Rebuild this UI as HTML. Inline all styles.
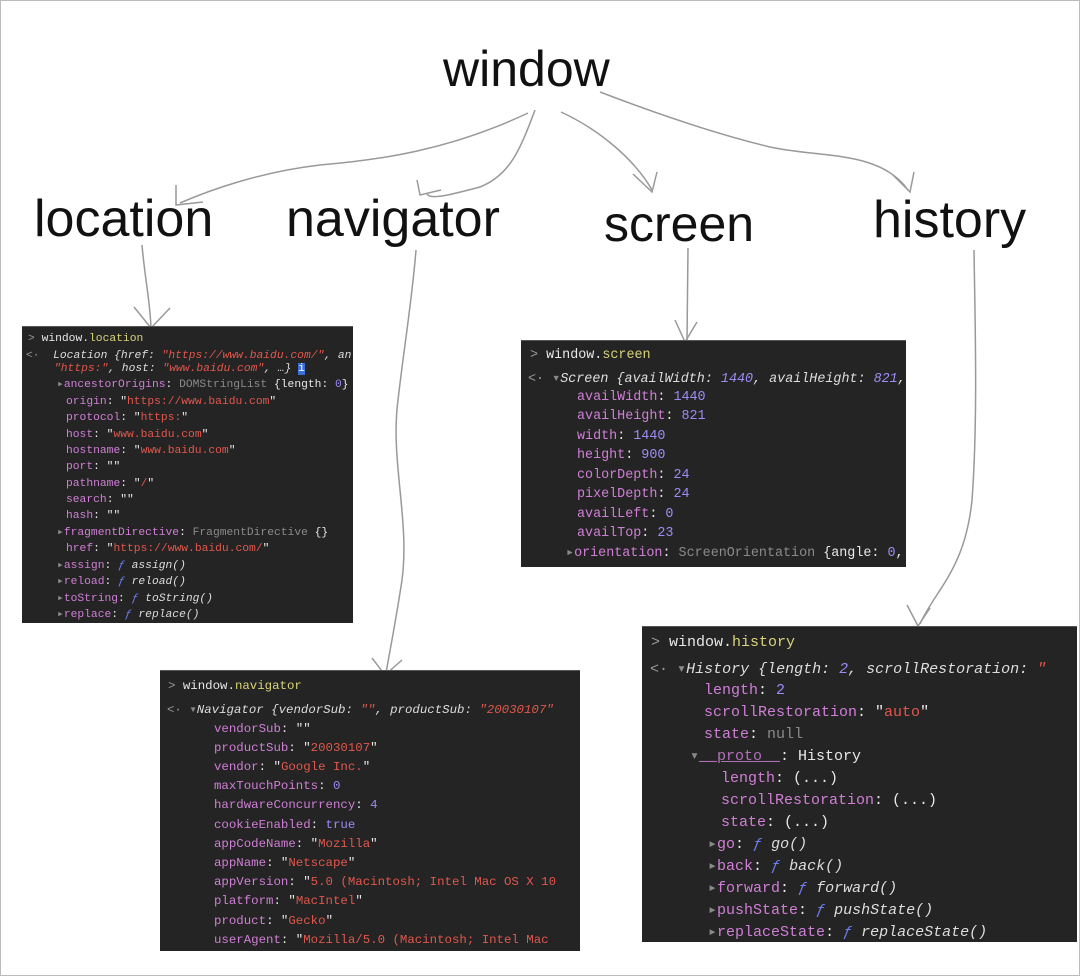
<!DOCTYPE html>
<html><head><meta charset="utf-8"><style>
body{margin:0;width:1080px;height:976px;background:#fff;position:relative;overflow:hidden;font-family:"Liberation Sans",sans-serif}
.frame{position:absolute;left:0;top:0;width:1078px;height:974px;border:1px solid #bbb}
.t{position:absolute;font-size:50px;color:#111;line-height:1;white-space:nowrap}
.p{position:absolute;background:#242424;overflow:hidden;font-family:"Liberation Mono",monospace;border-top:1px solid #555}
.p div{position:absolute;white-space:pre}
.k{color:#d07fd6}.s{color:#e2574c}.n{color:#9d8cf5}.w{color:#e8e8e8}.y{color:#d8d47a}.g{color:#8a8a8a}.i{font-style:italic;color:#ddd}.pr{color:#999}.f{color:#6f7ef0;font-style:italic}
</style></head><body>
<div class="frame"></div>
<div class="t" style="left:443px;top:44px">window</div>
<div class="t" style="left:34px;top:193px;font-size:52px">location</div>
<div class="t" style="left:286px;top:193px;font-size:52px">navigator</div>
<div class="t" style="left:604px;top:199px">screen</div>
<div class="t" style="left:873px;top:194px;font-size:52px">history</div>
<svg width="1080" height="976" style="position:absolute;left:0;top:0" fill="none" stroke="#999" stroke-width="1.5">
<path d="M528 113 C450 150,380 160,320 165 C260 172,210 190,180 203"/><path d="M176 185 L176 205 L203 202"/>
<path d="M535 110 C520 150,510 175,480 187 C450 195,430 200,427 194"/><path d="M417 180 L420 195 L441 190"/>
<path d="M561 112 C600 130,635 160,652 190"/><path d="M633 174 L652 192 L657 172"/>
<path d="M600 92 C660 115,720 135,770 147 C820 158,880 150,908 190"/><path d="M893 175 L910 192 L914 172"/>
<path d="M142 245 C145 280,150 300,151 328"/><path d="M134 307 L151 328 L170 308"/>
<path d="M416 250 C412 300,405 340,398 400 C390 460,410 520,402 580 C396 620,390 650,386 673"/><path d="M372 658 L385 675 L402 660"/>
<path d="M688 248 L687 340"/><path d="M675 320 L685 342 L697 322"/>
<path d="M974 250 C975 320,978 420,972 500 C965 570,935 590,920 624"/><path d="M907 605 L918 626 L930 608"/>
</svg>

<div class="p" style="left:22px;top:326px;width:331px;height:296px;font-size:11.3px;line-height:16px">
<div style="left:6px;top:4px"><span class="pr">&gt;</span> <span class="w">window.</span><span class="y">location</span></div>
<div style="left:4px;top:21px"><span class="pr">&lt;·</span>  <span class="i">Location {href: <span class="s">"https://www.baidu.com/"</span>, an</span></div>
<div style="left:32px;top:34px"><span class="i"><span class="s">"https:"</span>, host: <span class="s">"www.baidu.com"</span>, …}</span> <span style="background:#3b6fd8;color:#fff">i</span></div>
<div style="left:35px;top:50px"><span class="g">▸</span><span class="k">ancestorOrigins</span><span class="w">: </span><span class="g">DOMStringList </span><span class="w">{length: </span><span class="n">0</span><span class="w">}</span></div>
<div style="left:44px;top:67px"><span class="k">origin</span><span class="w">: "</span><span class="s">https://www.baidu.com</span><span class="w">"</span></div>
<div style="left:44px;top:83px"><span class="k">protocol</span><span class="w">: "</span><span class="s">https:</span><span class="w">"</span></div>
<div style="left:44px;top:100px"><span class="k">host</span><span class="w">: "</span><span class="s">www.baidu.com</span><span class="w">"</span></div>
<div style="left:44px;top:116px"><span class="k">hostname</span><span class="w">: "</span><span class="s">www.baidu.com</span><span class="w">"</span></div>
<div style="left:44px;top:132px"><span class="k">port</span><span class="w">: ""</span></div>
<div style="left:44px;top:149px"><span class="k">pathname</span><span class="w">: "</span><span class="s">/</span><span class="w">"</span></div>
<div style="left:44px;top:165px"><span class="k">search</span><span class="w">: ""</span></div>
<div style="left:44px;top:181px"><span class="k">hash</span><span class="w">: ""</span></div>
<div style="left:35px;top:198px"><span class="g">▸</span><span class="k">fragmentDirective</span><span class="w">: </span><span class="g">FragmentDirective </span><span class="w">{}</span></div>
<div style="left:44px;top:214px"><span class="k">href</span><span class="w">: "</span><span class="s">https://www.baidu.com/</span><span class="w">"</span></div>
<div style="left:35px;top:231px"><span class="g">▸</span><span class="k">assign</span><span class="w">: </span><span class="f">ƒ</span> <span class="i">assign()</span></div>
<div style="left:35px;top:247px"><span class="g">▸</span><span class="k">reload</span><span class="w">: </span><span class="f">ƒ</span> <span class="i">reload()</span></div>
<div style="left:35px;top:264px"><span class="g">▸</span><span class="k">toString</span><span class="w">: </span><span class="f">ƒ</span> <span class="i">toString()</span></div>
<div style="left:35px;top:280px"><span class="g">▸</span><span class="k">replace</span><span class="w">: </span><span class="f">ƒ</span> <span class="i">replace()</span></div>
</div>

<div class="p" style="left:521px;top:340px;width:385px;height:226px;font-size:13.4px;line-height:19px">
<div style="left:9px;top:5px"><span class="pr">&gt;</span> <span class="w">window.</span><span class="y">screen</span></div>
<div style="left:7px;top:29px"><span class="pr">&lt;·</span> <span class="g">▾</span><span class="i">Screen {availWidth: <span class="n">1440</span>, availHeight: <span class="n">821</span>,</span></div>
<div style="left:56px;top:47px"><span class="k">availWidth</span><span class="w">: </span><span class="n">1440</span></div>
<div style="left:56px;top:66px"><span class="k">availHeight</span><span class="w">: </span><span class="n">821</span></div>
<div style="left:56px;top:86px"><span class="k">width</span><span class="w">: </span><span class="n">1440</span></div>
<div style="left:56px;top:105px"><span class="k">height</span><span class="w">: </span><span class="n">900</span></div>
<div style="left:56px;top:125px"><span class="k">colorDepth</span><span class="w">: </span><span class="n">24</span></div>
<div style="left:56px;top:144px"><span class="k">pixelDepth</span><span class="w">: </span><span class="n">24</span></div>
<div style="left:56px;top:164px"><span class="k">availLeft</span><span class="w">: </span><span class="n">0</span></div>
<div style="left:56px;top:183px"><span class="k">availTop</span><span class="w">: </span><span class="n">23</span></div>
<div style="left:45px;top:203px"><span class="g">▸</span><span class="k">orientation</span><span class="w">: </span><span class="g">ScreenOrientation </span><span class="w">{angle: </span><span class="n">0</span><span class="w">,</span></div>
</div>

<div class="p" style="left:160px;top:670px;width:420px;height:280px;font-size:12.4px;line-height:19px">
<div style="left:8px;top:6px"><span class="pr">&gt;</span> <span class="w">window.</span><span class="y">navigator</span></div>
<div style="left:7px;top:30px"><span class="pr">&lt;·</span> <span class="g">▾</span><span class="i">Navigator {vendorSub: <span class="s">""</span>, productSub: <span class="s">"20030107"</span></span></div>
<div style="left:54px;top:49px"><span class="k">vendorSub</span><span class="w">: ""</span></div>
<div style="left:54px;top:68px"><span class="k">productSub</span><span class="w">: "</span><span class="s">20030107</span><span class="w">"</span></div>
<div style="left:54px;top:87px"><span class="k">vendor</span><span class="w">: "</span><span class="s">Google Inc.</span><span class="w">"</span></div>
<div style="left:54px;top:106px"><span class="k">maxTouchPoints</span><span class="w">: </span><span class="n">0</span></div>
<div style="left:54px;top:125px"><span class="k">hardwareConcurrency</span><span class="w">: </span><span class="n">4</span></div>
<div style="left:54px;top:145px"><span class="k">cookieEnabled</span><span class="w">: </span><span class="n">true</span></div>
<div style="left:54px;top:164px"><span class="k">appCodeName</span><span class="w">: "</span><span class="s">Mozilla</span><span class="w">"</span></div>
<div style="left:54px;top:183px"><span class="k">appName</span><span class="w">: "</span><span class="s">Netscape</span><span class="w">"</span></div>
<div style="left:54px;top:202px"><span class="k">appVersion</span><span class="w">: "</span><span class="s">5.0 (Macintosh; Intel Mac OS X 10</span></div>
<div style="left:54px;top:221px"><span class="k">platform</span><span class="w">: "</span><span class="s">MacIntel</span><span class="w">"</span></div>
<div style="left:54px;top:241px"><span class="k">product</span><span class="w">: "</span><span class="s">Gecko</span><span class="w">"</span></div>
<div style="left:54px;top:260px"><span class="k">userAgent</span><span class="w">: "</span><span class="s">Mozilla/5.0 (Macintosh; Intel Mac</span></div>
</div>

<div class="p" style="left:642px;top:626px;width:435px;height:315px;font-size:15px;line-height:22px">
<div style="left:9px;top:5px"><span class="pr">&gt;</span> <span class="w">window.</span><span class="y">history</span></div>
<div style="left:8px;top:32px"><span class="pr">&lt;·</span> <span class="g">▾</span><span class="i">History {length: <span class="n">2</span>, scrollRestoration: <span class="s">"</span></span></div>
<div style="left:62px;top:53px"><span class="k">length</span><span class="w">: </span><span class="n">2</span></div>
<div style="left:62px;top:75px"><span class="k">scrollRestoration</span><span class="w">: "</span><span class="s">auto</span><span class="w">"</span></div>
<div style="left:62px;top:97px"><span class="k">state</span><span class="w">: </span><span class="g">null</span></div>
<div style="left:48px;top:119px"><span class="g">▾</span><span class="k" style="text-decoration:underline;color:#b070b8">__proto__</span><span class="w">: History</span></div>
<div style="left:79px;top:141px"><span class="k">length</span><span class="w">: (...)</span></div>
<div style="left:79px;top:163px"><span class="k">scrollRestoration</span><span class="w">: (...)</span></div>
<div style="left:79px;top:185px"><span class="k">state</span><span class="w">: (...)</span></div>
<div style="left:66px;top:207px"><span class="g">▸</span><span class="k">go</span><span class="w">: </span><span class="f">ƒ</span> <span class="i">go()</span></div>
<div style="left:66px;top:229px"><span class="g">▸</span><span class="k">back</span><span class="w">: </span><span class="f">ƒ</span> <span class="i">back()</span></div>
<div style="left:66px;top:251px"><span class="g">▸</span><span class="k">forward</span><span class="w">: </span><span class="f">ƒ</span> <span class="i">forward()</span></div>
<div style="left:66px;top:273px"><span class="g">▸</span><span class="k">pushState</span><span class="w">: </span><span class="f">ƒ</span> <span class="i">pushState()</span></div>
<div style="left:66px;top:295px"><span class="g">▸</span><span class="k">replaceState</span><span class="w">: </span><span class="f">ƒ</span> <span class="i">replaceState()</span></div>
</div>
</body></html>
